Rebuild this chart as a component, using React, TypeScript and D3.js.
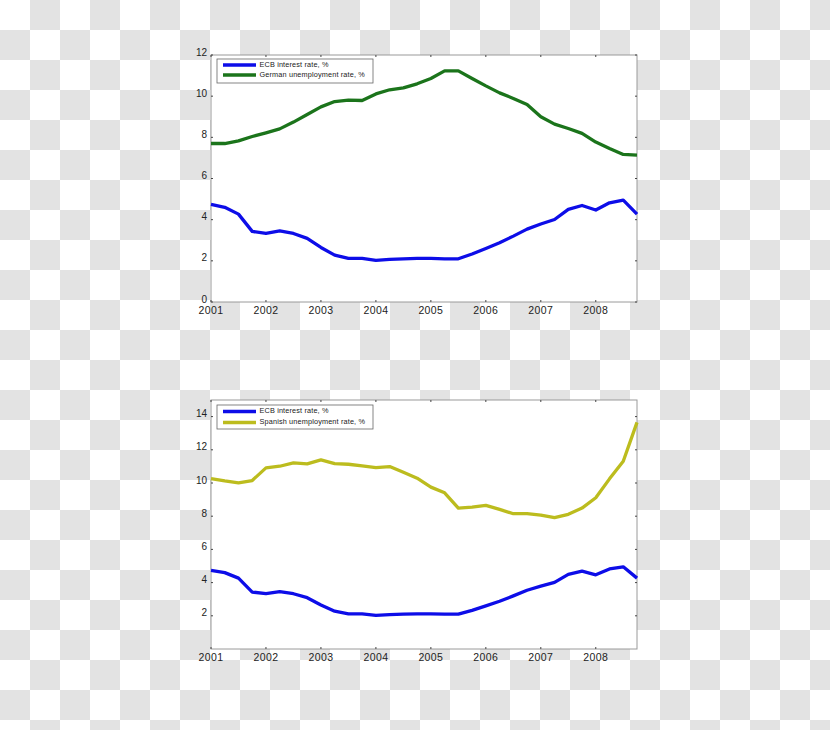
import React from "react";
import * as d3 from "d3";

const quarters: number[] = [
  2001, 2001.25, 2001.5, 2001.75, 2002, 2002.25, 2002.5, 2002.75,
  2003, 2003.25, 2003.5, 2003.75, 2004, 2004.25, 2004.5, 2004.75,
  2005, 2005.25, 2005.5, 2005.75, 2006, 2006.25, 2006.5, 2006.75,
  2007, 2007.25, 2007.5, 2007.75, 2008, 2008.25, 2008.5, 2008.75,
];

const ecbRate: number[] = [
  4.74, 4.6, 4.27, 3.43, 3.33, 3.45, 3.33, 3.09,
  2.65, 2.28, 2.12, 2.12, 2.02, 2.07, 2.1, 2.12,
  2.12, 2.1, 2.1, 2.33, 2.6, 2.88, 3.2, 3.54,
  3.79, 4.01, 4.5, 4.69, 4.47, 4.82, 4.95, 4.27,
];

const germanUnemployment: number[] = [
  7.7, 7.7, 7.83, 8.04, 8.22, 8.41, 8.74, 9.11,
  9.48, 9.74, 9.81, 9.79, 10.11, 10.31, 10.4, 10.6,
  10.86, 11.23, 11.23, 10.86, 10.5, 10.16, 9.89, 9.6,
  9.0, 8.64, 8.43, 8.19, 7.77, 7.46, 7.17, 7.14,
];

const spanishUnemployment: number[] = [
  10.27, 10.13, 10.01, 10.15, 10.91, 11.01, 11.21, 11.15,
  11.39, 11.17, 11.13, 11.03, 10.93, 10.99, 10.65, 10.29,
  9.75, 9.41, 8.49, 8.55, 8.65, 8.41, 8.15, 8.15,
  8.07, 7.91, 8.11, 8.49, 9.11, 10.25, 11.31, 13.65,
];

const xTickYears: number[] = [2001, 2002, 2003, 2004, 2005, 2006, 2007, 2008];
const yTicksTop: number[] = [0, 2, 4, 6, 8, 10, 12];
const yTicksBottom: number[] = [2, 4, 6, 8, 10, 12, 14];

const legendTop: string[] = ["ECB interest rate, %", "German unemployment rate, %"];
const legendBottom: string[] = ["ECB interest rate, %", "Spanish unemployment rate, %"];

const BLUE = "#0d0de8";
const GREEN = "#1b741b";
const OLIVE = "#bcbc1e";
const FONT = "'Liberation Sans', Arial, sans-serif";

type PanelProps = {
  top: number;
  bottom: number;
  yMax: number;
  yTicks: number[];
  series: { values: number[]; color: string }[];
  legend: string[];
  legendBox: { x0: number; x1: number; y0: number; y1: number; rows: number[] };
};

const LEFT = 211;
const RIGHT = 637;

function Panel({ top, bottom, yMax, yTicks, series, legend, legendBox }: PanelProps) {
  const x = d3.scaleLinear().domain([2001, 2008.75]).range([LEFT, RIGHT]);
  const y = d3.scaleLinear().domain([0, yMax]).range([bottom, top]);
  const line = d3
    .line<number>()
    .x((_, i) => x(quarters[i]))
    .y((d) => y(d));
  const tickLen = 2;
  return (
    <g>
      <rect x={LEFT} y={top} width={RIGHT - LEFT} height={bottom - top} fill="#ffffff" />
      <rect
        x={LEFT}
        y={top}
        width={RIGHT - LEFT}
        height={bottom - top}
        fill="none"
        stroke="#9a9a9a"
        strokeWidth={1}
      />
      {yTicks.map((t) => (
        <g key={"y" + t}>
          <line x1={LEFT} x2={LEFT + tickLen} y1={y(t)} y2={y(t)} stroke="#444" strokeWidth={1} />
          <line x1={RIGHT} x2={RIGHT - tickLen} y1={y(t)} y2={y(t)} stroke="#444" strokeWidth={1} />
          <text
            x={LEFT - 4}
            y={y(t) - 2}
            textAnchor="end"
            dominantBaseline="middle"
            fontFamily={FONT}
            fontSize={10}
            fill="#222"
          >
            {t}
          </text>
        </g>
      ))}
      {xTickYears.map((t) => (
        <g key={"x" + t}>
          <line x1={x(t)} x2={x(t)} y1={bottom} y2={bottom - tickLen} stroke="#444" strokeWidth={1} />
          <line x1={x(t)} x2={x(t)} y1={top} y2={top + tickLen} stroke="#444" strokeWidth={1} />
          <text
            x={x(t)}
            y={bottom + 11.5}
            textAnchor="middle"
            fontFamily={FONT}
            fontSize={10.5}
            letterSpacing={0.4}
            fill="#222"
          >
            {t}
          </text>
        </g>
      ))}
      {series.map((s, i) => (
        <path
          key={i}
          d={line(s.values) || ""}
          fill="none"
          stroke={s.color}
          strokeWidth={3.3}
          strokeLinejoin="round"
          strokeLinecap="butt"
        />
      ))}
      <rect
        x={legendBox.x0}
        y={legendBox.y0}
        width={legendBox.x1 - legendBox.x0}
        height={legendBox.y1 - legendBox.y0}
        fill="#ffffff"
        stroke="#666"
        strokeWidth={0.8}
      />
      {legend.map((label, i) => (
        <g key={label}>
          <line
            x1={legendBox.x0 + 6}
            x2={legendBox.x0 + 39}
            y1={legendBox.rows[i]}
            y2={legendBox.rows[i]}
            stroke={series[i].color}
            strokeWidth={3.3}
          />
          <text
            x={legendBox.x0 + 42.5}
            y={legendBox.rows[i]}
            dominantBaseline="middle"
            fontFamily={FONT}
            fontSize={7.3}
            letterSpacing={0.15}
            fill="#222"
          >
            {label}
          </text>
        </g>
      ))}
    </g>
  );
}

export default function App() {
  return (
    <svg
      width={830}
      height={730}
      style={{ position: "absolute", left: 0, top: 0 }}
      xmlns="http://www.w3.org/2000/svg"
    >
      <defs>
        <pattern id="checker" x={0} y={0} width={60} height={60} patternUnits="userSpaceOnUse">
          <rect x={0} y={0} width={60} height={60} fill="#ffffff" />
          <rect x={30} y={0} width={30} height={30} fill="#e3e3e3" />
          <rect x={0} y={30} width={30} height={30} fill="#e3e3e3" />
        </pattern>
      </defs>
      <rect x={0} y={0} width={830} height={730} fill="url(#checker)" />
      <Panel
        top={55}
        bottom={302}
        yMax={12}
        yTicks={yTicksTop}
        series={[
          { values: ecbRate, color: BLUE },
          { values: germanUnemployment, color: GREEN },
        ]}
        legend={legendTop}
        legendBox={{ x0: 217, x1: 373, y0: 59, y1: 83, rows: [65, 75] }}
      />
      <Panel
        top={400}
        bottom={649}
        yMax={15}
        yTicks={yTicksBottom}
        series={[
          { values: ecbRate, color: BLUE },
          { values: spanishUnemployment, color: OLIVE },
        ]}
        legend={legendBottom}
        legendBox={{ x0: 217, x1: 373, y0: 405, y1: 429, rows: [411.5, 422.5] }}
      />
    </svg>
  );
}
